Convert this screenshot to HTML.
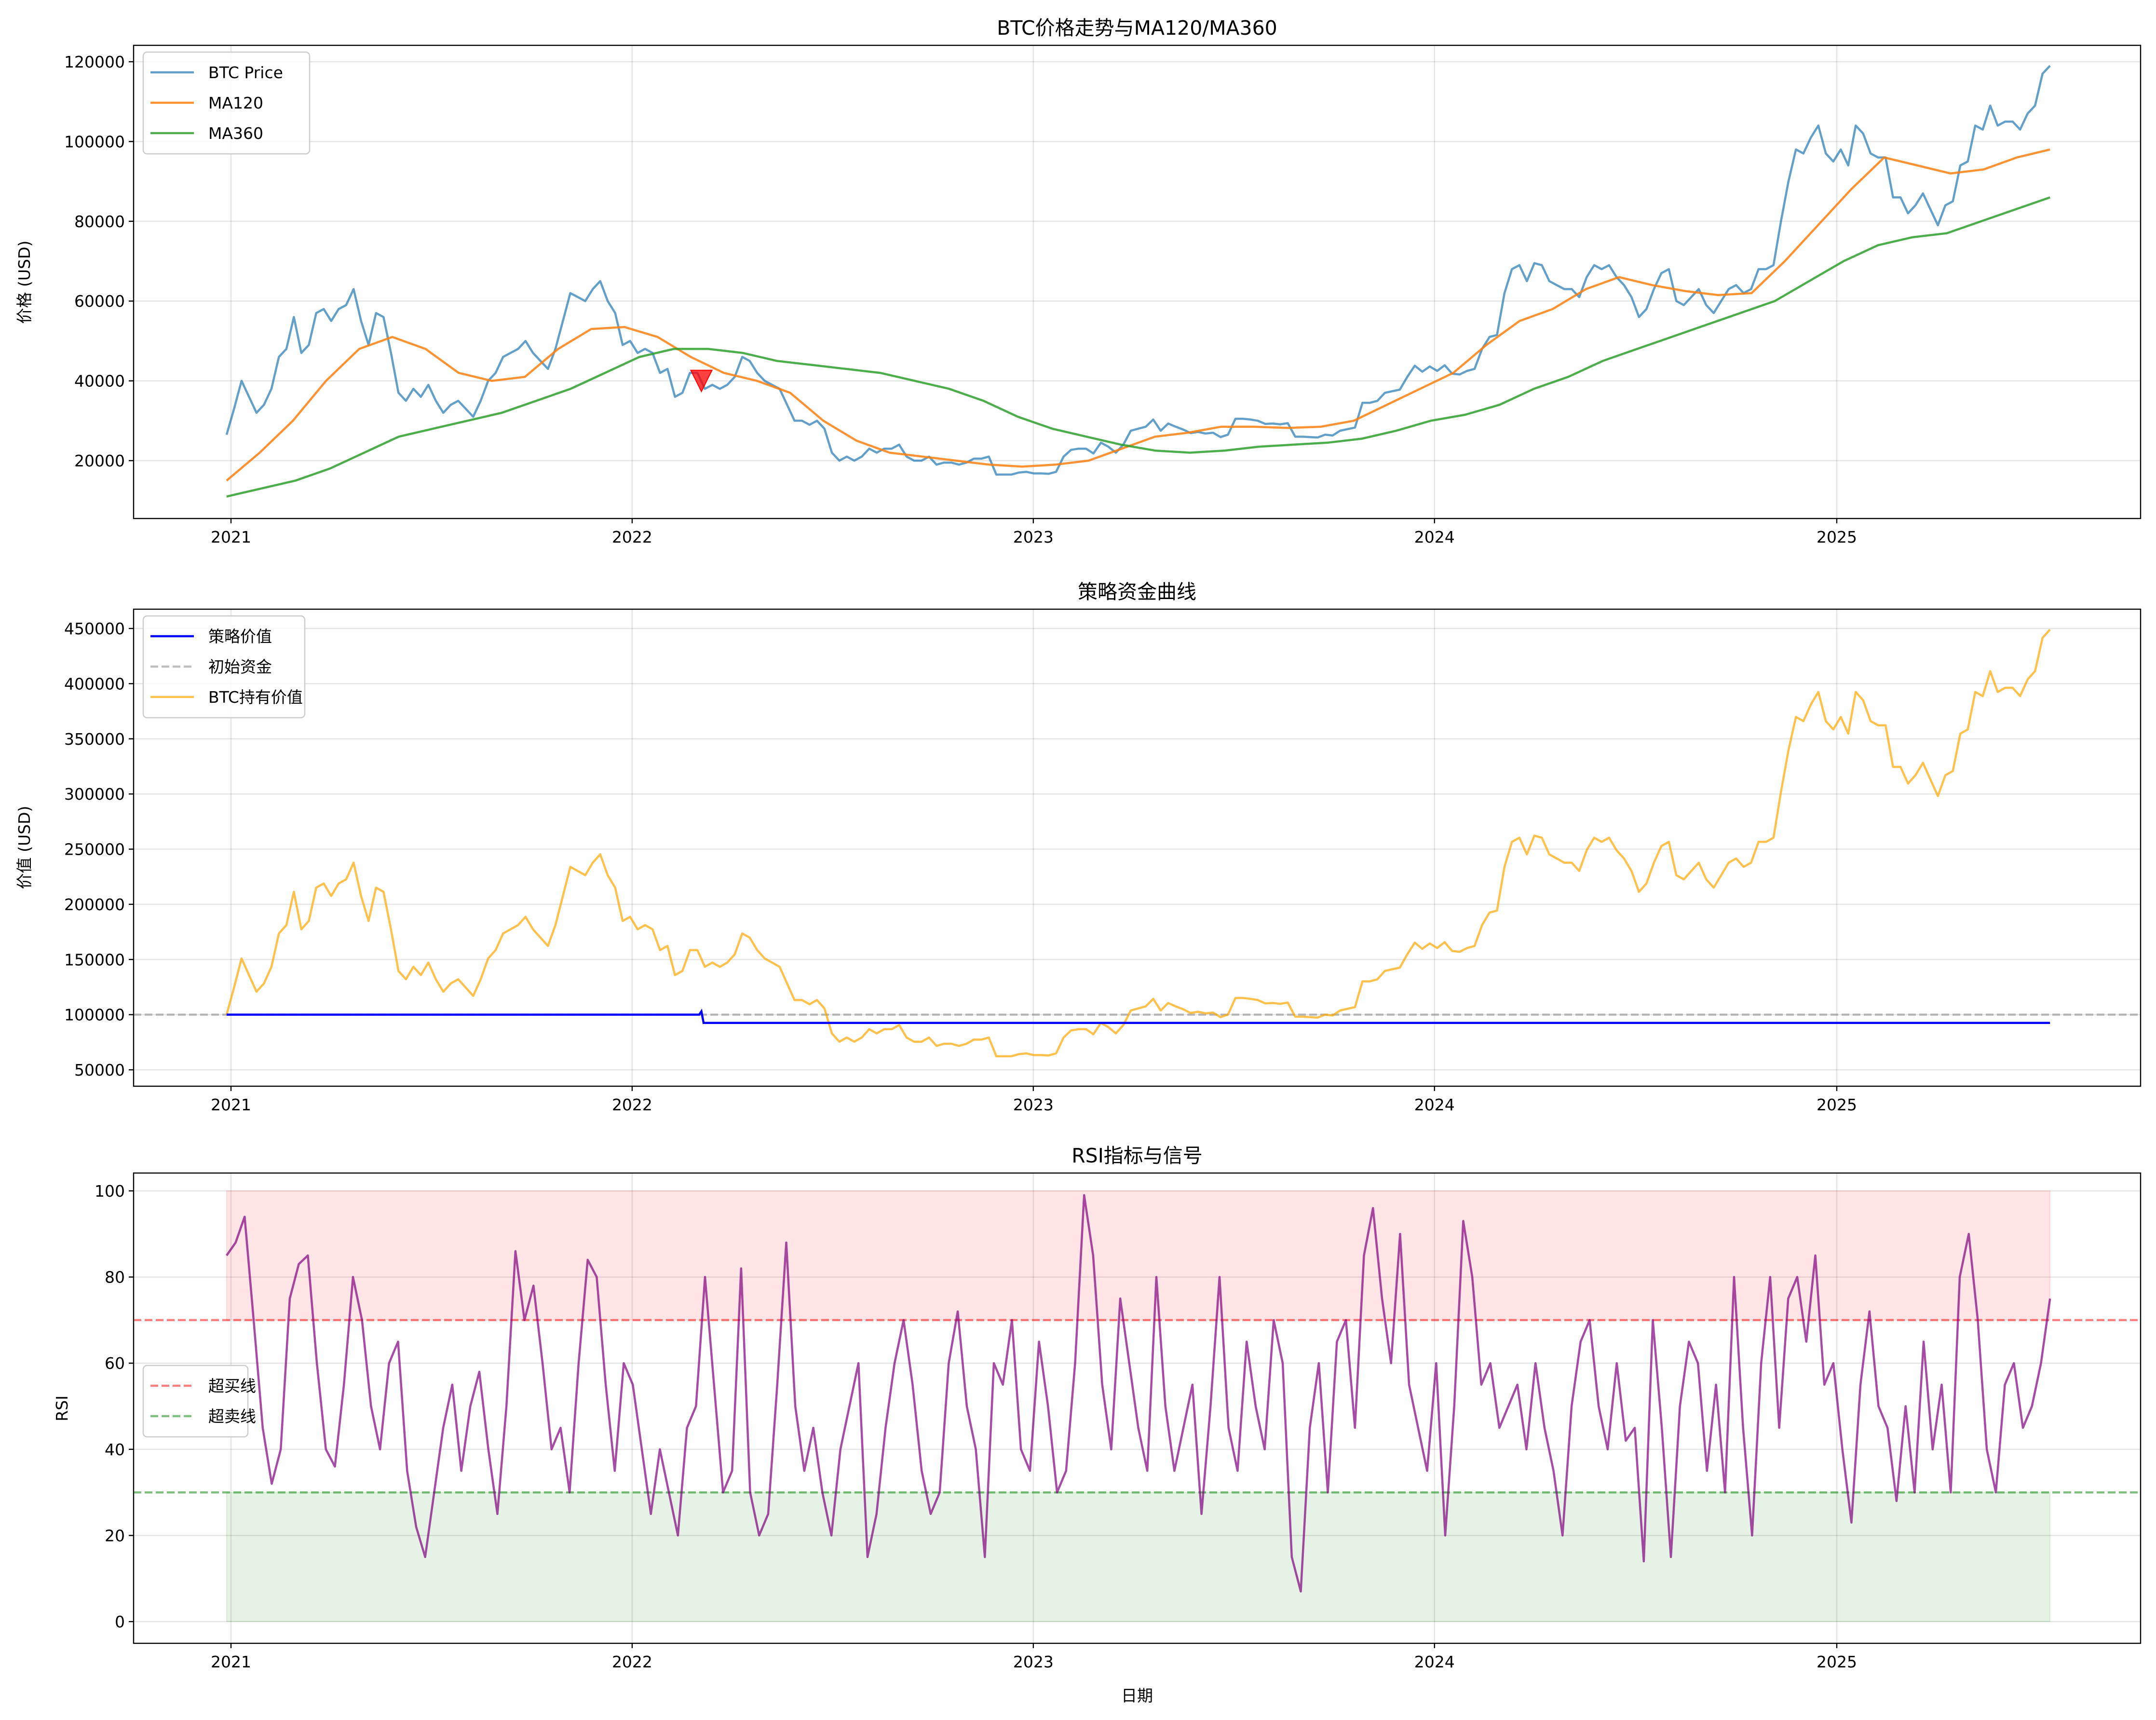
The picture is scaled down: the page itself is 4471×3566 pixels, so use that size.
<!DOCTYPE html>
<html><head><meta charset="utf-8"><style>
html,body{margin:0;padding:0;background:#fff}
svg{display:block;font-family:"DejaVu Sans","Liberation Sans","Noto Sans CJK SC",sans-serif}
</style></head><body>
<svg id="c" width="4471" height="3566" viewBox="0 0 4471 3566" xmlns="http://www.w3.org/2000/svg"></svg>
<script>
const startDate='2020-12-28', endDate='2025-07-14';
const yearTicks=['2021','2022','2023','2024','2025'];
const priceValues=[26500,33000,40000,36000,32000,34000,38000,46000,48000,56000,47000,49000,57000,58000,55000,58000,59000,63000,55000,49000,57000,56000,47000,37000,35000,38000,36000,39000,35000,32000,34000,35000,33000,31000,35000,40000,42000,46000,47000,48000,50000,47000,45000,43000,48000,55000,62000,61000,60000,63000,65000,60000,57000,49000,50000,47000,48000,47000,42000,43000,36000,37000,42000,42000,38000,39000,38000,39000,41000,46000,45000,42000,40000,39000,38000,34000,30000,30000,29000,30000,28000,22000,20000,21000,20000,21000,23000,22000,23000,23000,24000,21000,20000,20000,21000,19000,19500,19500,19000,19500,20500,20500,21000,16500,16500,16500,17000,17200,16800,16800,16700,17200,21000,22700,23000,23000,21800,24500,23500,22000,24000,27500,28000,28500,30300,27500,29300,28500,27800,26900,27200,26800,27000,25900,26500,30500,30500,30300,30000,29200,29300,29100,29400,26000,26000,25900,25800,26500,26300,27500,27900,28300,34500,34500,35000,37000,37400,37800,41000,43800,42300,43600,42500,43900,41800,41600,42500,43000,48000,51000,51500,62000,68000,69000,65000,69500,69000,65000,64000,63000,63000,61000,66000,69000,68000,69000,66000,64000,61000,56000,58000,63000,67000,68000,60000,59000,61000,63000,59000,57000,60000,63000,64000,62000,63000,68000,68000,69000,80000,90000,98000,97000,101000,104000,97000,95000,98000,94000,104000,102000,97000,96000,96000,86000,86000,82000,84000,87000,83000,79000,84000,85000,94000,95000,104000,103000,109000,104000,105000,105000,103000,107000,109000,117000,119000];
const ma120Values=[15000,22000,30000,40000,48000,51000,48000,42000,40000,41000,48000,53000,53500,51000,46000,42000,40000,37000,30000,25000,22000,21000,20000,19000,18500,19000,20000,23000,26000,27000,28500,28500,28200,28500,30000,34000,38000,42000,49000,55000,58000,63000,66000,64000,62500,61500,62000,70000,79000,88000,96000,94000,92000,93000,96000,98000];
const ma360Values=[11000,13000,15000,18000,22000,26000,28000,30000,32000,35000,38000,42000,46000,48000,48000,47000,45000,44000,43000,42000,40000,38000,35000,31000,28000,26000,24000,22500,22000,22500,23500,24000,24500,25500,27500,30000,31500,34000,38000,41000,45000,48000,51000,54000,57000,60000,65000,70000,74000,76000,77000,80000,83000,86000];
const strategyDates=['2020-12-28','2022-03-03','2022-03-05','2022-03-07','2025-07-14'];
const strategyValues=[100000,100000,103000,92500,92500];
const initialCapital=100000;
const sellDates=['2022-03-05'];
const sellPrices=[40000];
const rsiValues=[85,88,94,70,45,32,40,75,83,85,60,40,36,55,80,70,50,40,60,65,35,22,15,30,45,55,35,50,58,40,25,50,86,70,78,60,40,45,30,60,84,80,55,35,60,55,40,25,
40,30,20,45,50,80,55,30,35,82,30,20,25,55,88,50,35,45,30,20,40,50,60,15,25,45,60,70,55,35,25,30,60,72,50,40,15,60,55,70,40,35,65,50,30,
35,60,99,85,55,40,75,60,45,35,80,50,35,45,55,25,50,80,45,35,65,50,40,70,60,15,7,45,60,30,65,70,45,85,96,75,60,90,55,45,
35,60,20,50,93,80,55,60,45,50,55,40,60,45,35,20,50,65,70,50,40,60,42,45,14,70,45,15,50,65,60,35,55,30,80,45,20,60,80,45,75,80,65,85,55,
60,40,23,55,72,50,45,28,50,30,65,40,55,30,80,90,70,40,30,55,60,45,50,60,75];
const p1Ticks=[20000,40000,60000,80000,100000,120000];
const p2Ticks=[50000,100000,150000,200000,250000,300000,350000,400000,450000];
const p3Ticks=[0,20,40,60,80,100];

const NS='http://www.w3.org/2000/svg';
const svg=document.getElementById('c');
function el(tag,attrs,parent,text){const e=document.createElementNS(NS,tag);for(const k in attrs)e.setAttribute(k,attrs[k]);if(text!==undefined)e.textContent=text;(parent||svg).appendChild(e);return e;}
const L=277,R=4439;
const t2021=Date.parse('2021-01-01'),t2025=Date.parse('2025-01-01');
function X(d){const t=typeof d==='number'?d:Date.parse(d);return 479+(t-t2021)/(t2025-t2021)*(3809-479);}
const tS=Date.parse(startDate),tE=Date.parse(endDate);
function even(i,n){return tS+(tE-tS)*i/(n-1);}
function mkY(v0,p0,v1,p1){return v=>p0+(v-v0)/(v1-v0)*(p1-p0);}
const Y1=mkY(20000,955,120000,128), Y2=mkY(50000,2218,450000,1303), Y3=mkY(0,3362,100,2469);
const panels=[{top:94,bot:1075,Y:Y1,ticks:p1Ticks,name:'price-panel'},{top:1263,bot:2252,Y:Y2,ticks:p2Ticks,name:'portfolio-panel'},{top:2432,bot:3407,Y:Y3,ticks:p3Ticks,name:'rsi-panel'}];
function path(xs,ys){return xs.map((x,i)=>(i?'L':'M')+x.toFixed(1)+' '+ys[i].toFixed(1)).join('');}
const FS=33;

panels.forEach(p=>{
  const g=el('g',{},svg);
  p.g=g;
  yearTicks.forEach(y=>{const x=X(y+'-01-01');
    const gl=el('line',{x1:x,x2:x,y1:p.top,y2:p.bot,stroke:'#000','stroke-opacity':0.1,'stroke-width':2.5},g);
    
    el('line',{x1:x,x2:x,y1:p.bot,y2:p.bot+10,stroke:'#000','stroke-width':2.4},g);
    const t=el('text',{x:x,y:p.bot+50,'font-size':FS,'text-anchor':'middle'},g,y);
    });
  p.ticks.forEach(v=>{const y=p.Y(v);
    el('line',{x1:L,x2:R,y1:y,y2:y,stroke:'#000','stroke-opacity':0.1,'stroke-width':2.5},g);
    el('line',{x1:L-10,x2:L,y1:y,y2:y,stroke:'#000','stroke-width':2.4},g);
    const t=el('text',{x:L-18,y:y+12,'font-size':FS,'text-anchor':'end'},g,String(v));
    });
});

{const g=panels[0].g;
 const px=priceValues.map((v,i)=>X(even(i,priceValues.length))), py=priceValues.map(Y1);
 let e=el('path',{d:path(px,py),fill:'none',stroke:'#1f77b4','stroke-opacity':0.7,'stroke-width':4.5,'stroke-linejoin':'round'},g);
 
 e=el('path',{d:path(ma120Values.map((v,i)=>X(even(i,ma120Values.length))),ma120Values.map(Y1)),fill:'none',stroke:'#ff7f0e','stroke-opacity':0.85,'stroke-width':4.5},g);
 
 e=el('path',{d:path(ma360Values.map((v,i)=>X(even(i,ma360Values.length))),ma360Values.map(Y1)),fill:'none',stroke:'#2ca02c','stroke-opacity':0.85,'stroke-width':4.5},g);
 
 sellDates.forEach((d,i)=>{const x=X(d),y=Y1(sellPrices[i]);
  const m=el('polygon',{points:`${x-22},${y-22} ${x+22},${y-22} ${x},${y+22}`,fill:'red','fill-opacity':0.75,stroke:'red','stroke-width':2},g);
  });
}
{const g=panels[1].g;
 let e=el('line',{x1:L,x2:R,y1:Y2(initialCapital),y2:Y2(initialCapital),stroke:'gray','stroke-opacity':0.5,'stroke-width':4.5,'stroke-dasharray':'16,7'},g);
 
 const hv=priceValues.map(v=>v/priceValues[0]*initialCapital);
 e=el('path',{d:path(hv.map((v,i)=>X(even(i,hv.length))),hv.map(Y2)),fill:'none',stroke:'orange','stroke-opacity':0.7,'stroke-width':4.5,'stroke-linejoin':'round'},g);
 
 e=el('path',{d:path(strategyDates.map(X),strategyValues.map(Y2)),fill:'none',stroke:'blue','stroke-width':4.5},g);
 
}
{const g=panels[2].g;const x0=X(startDate),x1=X(endDate);
 let e=el('rect',{x:x0,y:Y3(100),width:x1-x0,height:Y3(70)-Y3(100),fill:'red','fill-opacity':0.1,stroke:'red','stroke-opacity':0.1,'stroke-width':2},g);
 
 e=el('rect',{x:x0,y:Y3(30),width:x1-x0,height:Y3(0)-Y3(30),fill:'green','fill-opacity':0.1,stroke:'green','stroke-opacity':0.1,'stroke-width':2},g);
 
 e=el('line',{x1:L,x2:R,y1:Y3(70),y2:Y3(70),stroke:'red','stroke-opacity':0.5,'stroke-width':4.5,'stroke-dasharray':'16,7'},g);
 
 e=el('line',{x1:L,x2:R,y1:Y3(30),y2:Y3(30),stroke:'green','stroke-opacity':0.5,'stroke-width':4.5,'stroke-dasharray':'16,7'},g);
 
 e=el('path',{d:path(rsiValues.map((v,i)=>X(even(i,rsiValues.length))),rsiValues.map(Y3)),fill:'none',stroke:'purple','stroke-opacity':0.7,'stroke-width':4.5,'stroke-linejoin':'round'},g);
 
}
const titles=['BTC价格走势与MA120/MA360','策略资金曲线','RSI指标与信号'];
panels.forEach((p,i)=>{
  el('rect',{x:L,y:p.top,width:R-L,height:p.bot-p.top,fill:'none',stroke:'#000','stroke-width':2.4},p.g);
  const t=el('text',{x:(L+R)/2,y:p.top-22,'font-size':41,'text-anchor':'middle'},svg,titles[i]);
  
});
function ylab(txt,x,y){const t=el('text',{x:x,y:y,'font-size':FS,'text-anchor':'middle',transform:`rotate(-90 ${x} ${y})`},svg,txt);
  }
ylab('价格 (USD)',62,585);ylab('价值 (USD)',62,1757);ylab('RSI',140,2920);
{const t=el('text',{x:(L+R)/2,y:3527,'font-size':FS,'text-anchor':'middle'},svg,'日期');}
function legend(x,y,w,items,name){
  const g=el('g',{},svg);
  el('rect',{x:x,y:y,width:w,height:items.length*63+22,rx:8,fill:'#fff','fill-opacity':0.8,stroke:'#ccc','stroke-width':2.5},g);
  items.forEach((it,i)=>{const cy=y+42+i*63;
    const ln=el('line',{x1:x+15,x2:x+105,y1:cy,y2:cy,stroke:it.c,'stroke-opacity':it.o,'stroke-width':4.5,'stroke-dasharray':it.d||'none'},g);
    
    const t=el('text',{x:x+135,y:cy+12,'font-size':FS},g,it.t);
    });
}
legend(297,108,345,[{c:'#1f77b4',o:0.7,t:'BTC Price'},{c:'#ff7f0e',o:0.85,t:'MA120'},{c:'#2ca02c',o:0.85,t:'MA360'}],'price-legend');
legend(297,1277,335,[{c:'blue',o:1,t:'策略价值'},{c:'gray',o:0.5,t:'初始资金',d:'16,7'},{c:'orange',o:0.7,t:'BTC持有价值'}],'portfolio-legend');
legend(297,2831,217,[{c:'red',o:0.5,t:'超买线',d:'16,7'},{c:'green',o:0.5,t:'超卖线',d:'16,7'}],'rsi-legend');
</script>
</body></html>
